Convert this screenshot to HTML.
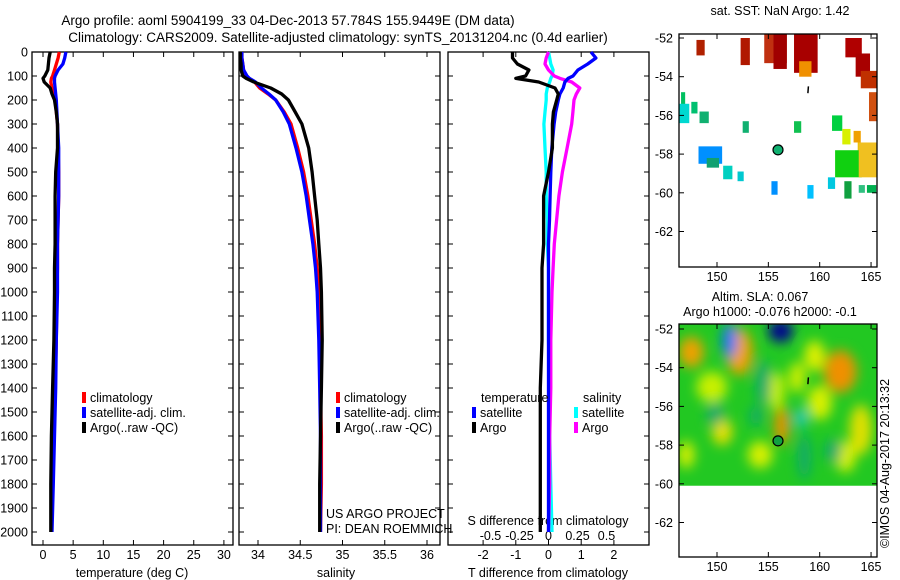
<!DOCTYPE html>
<html><head><meta charset="utf-8"><style>
body{margin:0;background:#fff;}
svg{display:block;font-family:"Liberation Sans",sans-serif;}
text{font-size:12.5px;fill:#000;}
</style></head><body>
<svg id="c" width="900" height="580" viewBox="0 0 900 580">
<text x="288" y="25" text-anchor="middle" style="font-size:13.5px">Argo profile: aoml 5904199_33 04-Dec-2013 57.784S 155.9449E (DM data)</text>
<text x="338" y="42" text-anchor="middle" style="font-size:13.5px">Climatology: CARS2009. Satellite-adjusted climatology: synTS_20131204.nc (0.4d earlier)</text>
<g id="g"></g>
</svg>
<script>
const depths=[0,25,50,75,100,110,125,150,175,200,250,300,400,500,600,700,800,900,1000,1200,1400,1600,1800,2000];
const tempArgo=[1.2,1.0,0.9,0.8,0.3,0.0,0.2,1.2,1.5,1.9,2.2,2.4,2.4,2.1,2.0,2.0,2.0,1.9,1.9,1.8,1.6,1.4,1.3,1.3];
const tempSat=[3.8,3.6,3.3,2.5,2.0,1.9,1.9,2.0,2.1,2.2,2.3,2.4,2.6,2.6,2.6,2.5,2.4,2.4,2.4,2.2,2.1,1.9,1.7,1.5];
const tempClim=[2.7,2.5,2.2,1.9,1.6,1.4,1.3,1.5,1.8,2.0,2.2,2.4,2.5,2.6,2.6,2.5,2.4,2.4,2.3,2.2,2.0,1.8,1.6,1.4];
const salArgo=[33.79,33.79,33.8,33.8,33.82,33.86,33.95,34.15,34.28,34.36,34.44,34.52,34.6,34.64,34.67,34.7,34.72,34.74,34.75,34.76,34.75,34.74,34.73,34.73];
const salSat=[33.81,33.81,33.82,33.83,33.87,33.9,33.97,34.04,34.13,34.21,34.3,34.37,34.45,34.52,34.57,34.61,34.65,34.68,34.7,34.72,34.73,34.74,34.74,34.74];
const salClim=[33.81,33.81,33.82,33.83,33.85,33.88,33.96,34.02,34.12,34.21,34.31,34.39,34.47,34.54,34.59,34.63,34.67,34.7,34.72,34.73,34.74,34.75,34.75,34.74];
const tdiffSat=[1.3,1.45,1.2,0.9,0.75,0.6,0.5,0.45,0.35,0.3,0.22,0.17,0.1,0.07,0.05,0.03,0.0,0.0,0.0,0.0,0.0,0.0,0.0,0.0];
const tdiffArgo=[-1.1,-1.1,-0.95,-0.6,-0.7,-1.0,-0.3,0.2,0.3,0.25,0.15,0.12,0.12,0.0,-0.15,-0.15,-0.15,-0.2,-0.2,-0.2,-0.25,-0.25,-0.25,-0.25];
const sdiffSat=[0,0.01,0.02,0.04,0.03,0.02,0.01,-0.01,-0.02,-0.02,-0.03,-0.04,-0.03,-0.02,-0.02,-0.01,-0.01,0,0,0,0.01,0.01,0.02,0.03];
const sdiffArgo=[0,-0.02,-0.03,0.0,0.05,0.1,0.2,0.27,0.24,0.22,0.21,0.2,0.16,0.12,0.09,0.07,0.05,0.04,0.03,0.02,0.02,0.01,0.01,0.0];
const depthTicks=[0,100,200,300,400,500,600,700,800,900,1000,1100,1200,1300,1400,1500,1600,1700,1800,1900,2000];
const tempTicks=[0,5,10,15,20,25,30];
const salTicks=[34,34.5,35,35.5,36];
const tdTicks=[-2,-1,0,1,2];
const sdTicks=[-0.5,-0.25,0,0.25,0.5];
const latTicks=[-52,-54,-56,-58,-60,-62];
const lonTicks=[150,155,160,165];
const sstLon=[148,152.3,154.6,155.5,157.5,158,162.5,163.5,164,164.8,146.5,146.3,147.5,148.3,152.5,157.5,161.2,162.2,163.7,163.3,161.5,163.8,148.2,149,150.6,152,155.3,158.8,160.8,162.4,163.8,164.6];
const sstLat=[-52.1,-52,-51.8,-51.8,-51.8,-53.2,-52,-52.8,-53.7,-54.8,-54.8,-55.4,-55.3,-55.8,-56.3,-56.3,-56,-56.7,-57.4,-56.8,-57.8,-57.4,-57.6,-58.2,-58.6,-58.9,-59.4,-59.6,-59.2,-59.4,-59.6,-59.6];
const sstW=[0.8,0.9,2.2,1.3,2.3,1.2,1.6,1.4,1.6,0.8,0.4,1.0,0.6,0.9,0.6,0.7,1.0,0.8,0.9,0.7,2.6,1.9,2.3,1.2,0.9,0.6,0.6,0.6,0.7,0.7,0.6,0.9];
const sstH=[0.8,1.4,1.5,1.8,2.0,0.8,1.0,1.2,0.9,1.5,0.9,1.0,0.6,0.6,0.6,0.6,0.8,0.8,0.9,0.6,1.4,1.8,0.9,0.5,0.7,0.5,0.7,0.7,0.6,0.9,0.4,0.4];
const sstCol=["#b02000","#b01800","#c03010","#a00000","#a80000","#f09000","#b00000","#a80000","#c03000","#d05010","#00c060","#00d8d0","#00c070","#10b070","#10b070","#10c050","#00d040","#d8f000","#e8c000","#f0a000","#10d010","#f0c020","#0090ff","#10a070","#00d0c0","#00c8d0","#0090ff","#00c0ff","#00c8e0","#10a040","#30c080","#00b050"];
const slaLon=[147.5,152.2,151.2,156.2,156.3,149.5,155.8,162,160,164,158.2,150.5,154.2,159.5,147,162.5,153.8,157.8,161.3,154.5,158.5,149.8];
const slaLat=[-53.2,-53.2,-52.6,-52.1,-57,-55,-55.2,-54.2,-55.8,-57.2,-56.6,-57.3,-58.5,-53.4,-58.5,-58.6,-56.5,-54.5,-58.3,-54.8,-58.6,-56.4];
const slaRx=[1.2,1.3,0.7,1.2,0.7,1.5,0.8,1.6,1.2,1.1,0.5,1.0,1.2,1.0,0.8,1.0,0.6,0.8,0.8,0.7,0.6,0.8];
const slaRy=[0.8,1.2,0.9,0.6,1.0,0.8,1.0,1.1,0.9,1.3,0.5,0.7,0.7,0.8,0.7,0.8,0.5,0.8,0.6,1.2,1.2,0.6];
const slaCol=["#f0a000","#f0a000","#1070ff","#000090","#f09000","#c8f000","#c8f000","#f09000","#d8f000","#e0e000","#00c8e0","#e8e000","#d8f000","#e0f000","#d8f000","#d8f000","#10a870","#d0f000","#10a870","#10a870","#10a870","#10a870"];

const NS="http://www.w3.org/2000/svg";
const G=document.getElementById('g');
function el(tag,attrs,parent){const e=document.createElementNS(NS,tag);for(const k in attrs)e.setAttribute(k,attrs[k]);(parent||G).appendChild(e);return e;}
const yD=d=>52+d*0.24;
const TOP=52,BOT=545;
const xT=v=>43+v*6.03;
const xS=v=>258+(v-34)*84.5;
const xTd=v=>548.5+v*32.7;
const xSd=v=>548.5+v*116;

function frame(x0,x1,name){
  const r=el('rect',{x:x0,y:TOP,width:x1-x0,height:BOT-TOP,fill:'none',stroke:'#000','stroke-width':1.3});
  
  
  depthTicks.forEach(d=>{
    el('line',{x1:x0,x2:x0+5,y1:yD(d),y2:yD(d),stroke:'#000'});
    el('line',{x1:x1,x2:x1-5,y1:yD(d),y2:yD(d),stroke:'#000'});
  });
}
function xticks(ticks,fx,x0,x1,labelY,top,name){
  ticks.forEach(t=>{
    const x=fx(t);
    if(!top){el('line',{x1:x,x2:x,y1:BOT,y2:BOT-5,stroke:'#000'});el('line',{x1:x,x2:x,y1:TOP,y2:TOP+5,stroke:'#000'});}
    const tx=el('text',{x:x,y:labelY,'text-anchor':'middle'});tx.textContent=String(t);
    
    
  });
}
function line(vals,fx,color,name){
  const p=el('polyline',{points:vals.map((v,i)=>fx(v).toFixed(1)+','+yD(depths[i]).toFixed(1)).join(' '),fill:'none',stroke:color,'stroke-width':3.3,'stroke-linejoin':'round'});
  
  
}
function txt(x,y,s,name,extra){const t=el('text',Object.assign({x:x,y:y},extra||{}));t.textContent=s;
  
  return t;}
function legend(x,y,color,label,name){
  const r=el('rect',{x:x,y:y-10,width:4,height:11,fill:color});
  
  
  txt(x+8,y,label,name);
}

frame(32,233,'temperature-panel');
depthTicks.forEach(d=>{txt(28,yD(d)+4.5,String(d),'depth-tick-label',{'text-anchor':'end'});});
xticks(tempTicks,xT,32,233,559,false,'temperature-tick-label');
txt(132,577,'temperature (deg C)','temperature-axis-title',{'text-anchor':'middle'});
line(tempClim,xT,'#ff0000','temp-climatology-line');
line(tempSat,xT,'#0000ff','temp-satellite-line');
line(tempArgo,xT,'#000000','temp-argo-line');
legend(82,402,'#ff0000','climatology','temp-legend-climatology');
legend(82,417,'#0000ff','satellite-adj. clim.','temp-legend-satellite');
legend(82,432,'#000000','Argo(..raw -QC)','temp-legend-argo');

frame(239,440,'salinity-panel');
xticks(salTicks,xS,239,440,559,false,'salinity-tick-label');
txt(336,577,'salinity','salinity-axis-title',{'text-anchor':'middle'});
line(salClim,xS,'#ff0000','sal-climatology-line');
line(salSat,xS,'#0000ff','sal-satellite-line');
line(salArgo,xS,'#000000','sal-argo-line');
legend(336,402,'#ff0000','climatology','sal-legend-climatology');
legend(336,417,'#0000ff','satellite-adj. clim.','sal-legend-satellite');
legend(336,432,'#000000','Argo(..raw -QC)','sal-legend-argo');
txt(326,518,'US ARGO PROJECT','project-credit');
txt(326,533,'PI: DEAN ROEMMICH','pi-credit');

frame(448,649,'difference-panel');
xticks(tdTicks,xTd,448,649,559,false,'tdiff-tick-label');
xticks(sdTicks,xSd,448,649,540,true,'sdiff-tick-label');
txt(548,577,'T difference from climatology','tdiff-axis-title',{'text-anchor':'middle'});
txt(548,525,'S difference from climatology','sdiff-axis-title',{'text-anchor':'middle'});
line(sdiffSat,xSd,'#00ffff','sdiff-satellite-line');
line(sdiffArgo,xSd,'#ff00ff','sdiff-argo-line');
line(tdiffSat,xTd,'#0000ff','tdiff-satellite-line');
line(tdiffArgo,xTd,'#000000','tdiff-argo-line');
txt(481,402,'temperature','diff-legend-temperature-heading');
txt(583,402,'salinity','diff-legend-salinity-heading');
legend(472,417,'#0000ff','satellite','diff-legend-t-satellite');
legend(472,432,'#000000','Argo','diff-legend-t-argo');
legend(574,417,'#00ffff','satellite','diff-legend-s-satellite');
legend(574,432,'#ff00ff','Argo','diff-legend-s-argo');

const mX=lon=>717+(lon-150)*10.27;
function map(top,lat52,name,drawFn){
  const mY=lat=>lat52+(-52-lat)*19.35;
  const clip='clip-'+name;
  const cp=el('clipPath',{id:clip});el('rect',{x:679,y:top,width:198,height:233},cp);
  const g=el('g',{'clip-path':'url(#'+clip+')'});
  
  
  drawFn(g,mY);
  const c=el('circle',{cx:mX(155.94),cy:mY(-57.78),r:5,fill:name==='sst-map'?'#10b070':'#10a040',stroke:'#000','stroke-width':1.2});
  
  
  el('line',{x1:mX(158.9),y1:mY(-54.5),x2:mX(158.85),y2:mY(-54.85),stroke:'#000','stroke-width':1.5});
  const r=el('rect',{x:679,y:top,width:198,height:233,fill:'none',stroke:'#000','stroke-width':1.3});
  
  
  latTicks.forEach(l=>{const y=mY(l);el('line',{x1:679,x2:684,y1:y,y2:y,stroke:'#000'});el('line',{x1:877,x2:872,y1:y,y2:y,stroke:'#000'});
    txt(673,y+4.5,String(l),name+'-lat-label',{'text-anchor':'end'});});
  lonTicks.forEach(l=>{const x=mX(l);el('line',{x1:x,x2:x,y1:top+233,y2:top+228,stroke:'#000'});el('line',{x1:x,x2:x,y1:top,y2:top+5,stroke:'#000'});
    txt(x,top+247,String(l),name+'-lon-label',{'text-anchor':'middle'});});
}
map(34,38,'sst-map',(g,mY)=>{
  sstLon.forEach((lon,i)=>{
    const r=el('rect',{x:mX(lon),y:mY(sstLat[i]),width:sstW[i]*10.27,height:sstH[i]*19.35,fill:sstCol[i]},g);
    
    
  });
});
txt(780,15,'sat. SST: NaN Argo: 1.42','sst-map-title',{'text-anchor':'middle'});
const f=el('filter',{id:'blur',x:'-50%',y:'-50%',width:'200%',height:'200%'});el('feGaussianBlur',{stdDeviation:6},f);
map(324,329,'sla-map',(g,mY)=>{
  const bg=el('rect',{x:679,y:324,width:198,height:mY(-60.1)-324,fill:'#22c822'},g);
  
  
  const cl=el('clipPath',{id:'slaclip'});el('rect',{x:679,y:324,width:198,height:mY(-60.1)-324},cl);
  const gc=el('g',{'clip-path':'url(#slaclip)'},g);
  const gb=el('g',{filter:'url(#blur)'},gc);
  slaLon.forEach((lon,i)=>{
    const e=el('ellipse',{cx:mX(lon),cy:mY(slaLat[i]),rx:slaRx[i]*10.27,ry:slaRy[i]*19.35,fill:slaCol[i]},gb);
    
    
  });
});
txt(760,301,'Altim. SLA: 0.067','sla-map-title',{'text-anchor':'middle'});
txt(770,316,'Argo h1000: -0.076 h2000: -0.1','sla-map-subtitle',{'text-anchor':'middle'});
txt(889,548,'©IMOS 04-Aug-2017 20:13:32','imos-credit',{transform:'rotate(-90 889 548)'});
</script>
</body></html>
